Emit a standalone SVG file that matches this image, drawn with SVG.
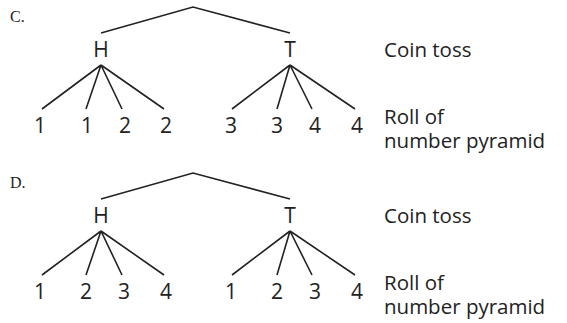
<svg xmlns="http://www.w3.org/2000/svg" width="567" height="323" viewBox="0 0 567 323">
<style>
.bg{fill:#fff}
.ln{stroke:#222;stroke-width:1.6;fill:none;stroke-linecap:butt}
.lab{font-family:"Open Sans","Noto Sans",sans-serif;font-size:21px;fill:#222;text-anchor:middle}
.side{font-family:"Open Sans","Noto Sans",sans-serif;font-size:20.5px;fill:#222}
.ltr{font-family:"Liberation Serif",serif;font-size:16px;fill:#222}
</style>
<rect class="bg" width="567" height="323"/>
<g id="connectors">
<polyline class="ln" points="101,33 193,7 290,33"/>
<path class="ln" d="M101,65 L42,109 M101,65 L86,109 M101,65 L122,109 M101,65 L164,109"/>
<path class="ln" d="M290,65 L232,109 M290,65 L277,109 M290,65 L312,109 M290,65 L355,109"/>
<polyline class="ln" points="101,199 193,173 290,199"/>
<path class="ln" d="M101,231 L42,275 M101,231 L86,275 M101,231 L122,275 M101,231 L164,275"/>
<path class="ln" d="M290,231 L232,275 M290,231 L277,275 M290,231 L312,275 M290,231 L355,275"/>
</g>
<g id="labelC"><text class="ltr" x="10" y="22">C.</text></g>
<g id="C-H"><text class="lab" x="101" y="57">H</text></g>
<g id="C-T"><text class="lab" x="290" y="57">T</text></g>
<g id="C-leaves">
<text class="lab" x="40" y="133">1</text>
<text class="lab" x="87" y="133">1</text>
<text class="lab" x="125" y="133">2</text>
<text class="lab" x="166" y="133">2</text>
<text class="lab" x="231" y="133">3</text>
<text class="lab" x="277" y="133">3</text>
<text class="lab" x="315" y="133">4</text>
<text class="lab" x="357" y="133">4</text>
</g>
<g id="C-side">
<text class="side" x="384" y="57">Coin toss</text>
<text class="side" x="384" y="124">Roll of<tspan x="384" y="148">number pyramid</tspan></text>
</g>
<g id="labelD"><text class="ltr" x="10" y="188">D.</text></g>
<g id="D-H"><text class="lab" x="101" y="223">H</text></g>
<g id="D-T"><text class="lab" x="290" y="223">T</text></g>
<g id="D-leaves">
<text class="lab" x="40" y="299">1</text>
<text class="lab" x="86" y="299">2</text>
<text class="lab" x="124" y="299">3</text>
<text class="lab" x="166" y="299">4</text>
<text class="lab" x="231" y="299">1</text>
<text class="lab" x="277" y="299">2</text>
<text class="lab" x="315" y="299">3</text>
<text class="lab" x="357" y="299">4</text>
</g>
<g id="D-side">
<text class="side" x="384" y="223">Coin toss</text>
<text class="side" x="384" y="290">Roll of<tspan x="384" y="314">number pyramid</tspan></text>
</g>
</svg>
